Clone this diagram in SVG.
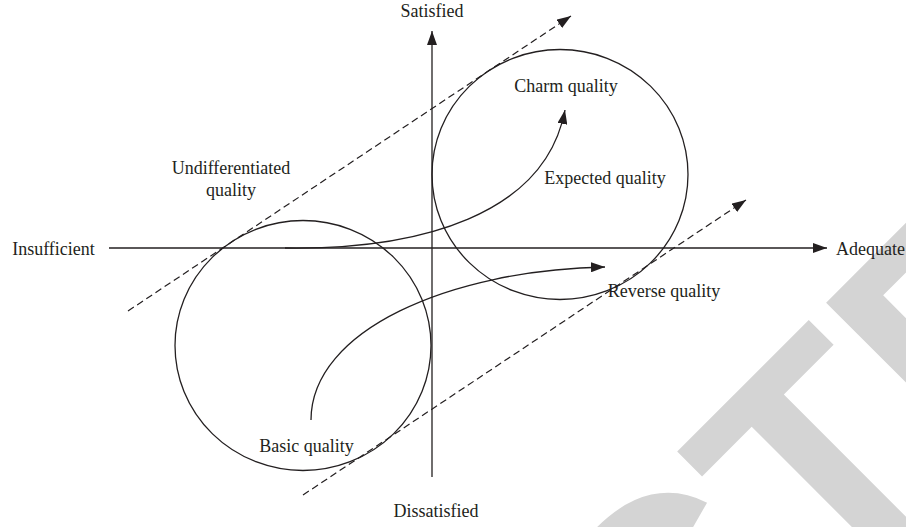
<svg xmlns="http://www.w3.org/2000/svg" width="906" height="527" viewBox="0 0 906 527">
  <style>
    .ln { fill: none; stroke: #231f20; stroke-width: 1.3; }
    .dash { fill: none; stroke: #231f20; stroke-width: 1.2; stroke-dasharray: 7 4; }
    .lbl { font-family: "Liberation Serif", "Times New Roman", serif; font-size: 18px; fill: #231f20; }
    .mid { text-anchor: middle; }
    .wm { font-family: "Liberation Sans", Arial, sans-serif; font-weight: bold; fill: #d4d4d4; }
  </style>
  <defs>
    <marker id="arr" markerUnits="userSpaceOnUse" markerWidth="14" markerHeight="10" refX="14" refY="5" orient="auto">
      <path d="M0,0 L14,5 L0,10 Z" fill="#231f20"/>
    </marker>
  </defs>
  <rect width="906" height="527" fill="#ffffff"/>

  <g id="watermark">
    <text class="wm" font-size="316" transform="translate(-102.6,1538.8) rotate(-45)">RETRACTED</text>
  </g>

  <g id="axes">
    <line class="ln" x1="109" y1="248" x2="827" y2="248" marker-end="url(#arr)"/>
    <line class="ln" x1="432" y1="477" x2="432" y2="31" marker-end="url(#arr)"/>
    <text class="lbl mid" x="432" y="17">Satisfied</text>
    <text class="lbl mid" x="436" y="517">Dissatisfied</text>
    <text class="lbl mid" x="53.5" y="255">Insufficient</text>
    <text class="lbl" x="836" y="255">Adequate</text>
  </g>

  <g id="basic-region">
    <ellipse class="ln" cx="303" cy="345.5" rx="128" ry="125"/>
    <text class="lbl mid" x="306.5" y="452">Basic quality</text>
  </g>

  <g id="charm-region">
    <ellipse class="ln" cx="560" cy="174.5" rx="128" ry="125"/>
    <text class="lbl mid" x="566" y="92">Charm quality</text>
    <text class="lbl mid" x="605" y="184">Expected quality</text>
  </g>

  <g id="undifferentiated-label">
    <text class="lbl mid" x="231" y="174">Undifferentiated</text>
    <text class="lbl mid" x="231" y="196">quality</text>
  </g>

  <g id="reverse-label">
    <text class="lbl mid" x="664" y="297">Reverse quality</text>
  </g>

  <g id="connectors">
    <line class="dash" x1="128" y1="311" x2="571" y2="16" marker-end="url(#arr)"/>
    <line class="dash" x1="303" y1="495" x2="746" y2="200" marker-end="url(#arr)"/>
    <path class="ln" d="M285,248 C420,250 545,215 565,110" marker-end="url(#arr)"/>
    <path class="ln" d="M311,420 C311,330 450,270 605,267" marker-end="url(#arr)"/>
  </g>
</svg>
